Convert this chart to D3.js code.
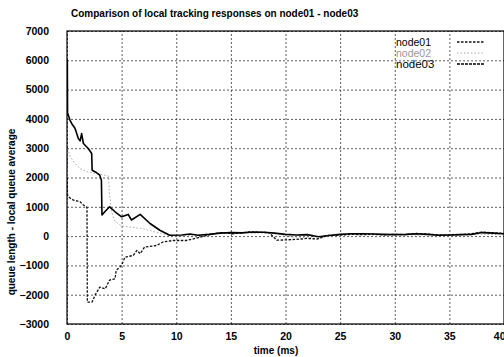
<!DOCTYPE html>
<html lang="en">
<head>
    <meta charset="UTF-8">
    <title>Comparison of local tracking responses on node01 - node03</title>
    <script src="https://cdnjs.cloudflare.com/ajax/libs/d3/7.8.5/d3.min.js"></script>
    <style>
        body {
            margin: 0;
            padding: 0;
            background-color: #fff;
        }
        svg {
            display: block;
            font-family: "Liberation Sans", Arial, sans-serif;
        }
        .grid line {
            stroke: #333;
            stroke-width: 0.8px;
            stroke-dasharray: 2,2;
        }
        .grid path {
            display: none;
        }
        .axis path {
            display: none;
        }
        .axis text {
            font-size: 10.5px;
            font-weight: bold;
            fill: #000;
        }
    </style>
</head>
<body>
    <div id="chart"></div>
    <script>
        // values
        const xTicks = [0, 5, 10, 15, 20, 25, 30, 35, 40];
        const yTicks = [-3000, -2000, -1000, 0, 1000, 2000, 3000, 4000, 5000, 6000, 7000];
        const seriesNames = ["node01", "node02", "node03"];

        const node01T = [0, 0.05, 0.3, 0.6, 1.2, 1.5, 1.83, 1.86, 2.3, 2.56, 3.0, 3.5, 3.9, 4.4, 4.5, 5.0, 5.3, 6.07, 6.4, 6.7, 7.1, 8.2, 8.8, 9.7, 10.9, 11.5, 12.2, 13.4, 14.3, 15.2, 16.7, 18.5, 19.2, 20, 21, 22, 22.9, 23.8, 25, 26, 27, 28, 29, 30, 31, 32, 33, 34, 35, 36, 37, 38, 39, 40];
        const node01V = [2000, 1400, 1290, 1230, 1170, 1060, 980, -2250, -2250, -2020, -1740, -1800, -1500, -1460, -1170, -1000, -720, -660, -490, -600, -375, -320, -200, -150, -150, -100, -35, 80, 120, 80, 140, 120, -140, -130, -110, -80, -100, 20, 40, 60, 50, 70, 40, 60, 50, 90, 70, 40, 30, 50, 80, 140, 110, 90];

        const node02T = [0, 0.05, 0.3, 0.7, 1.2, 1.8, 2.5, 3.2, 3.8, 3.9, 4.1, 4.4, 5.0, 6.0, 7.0, 8.0, 9.0, 10, 11, 12, 13, 14, 15, 16, 17, 18, 19, 20, 21, 22, 23, 24, 25, 26, 28, 30, 32, 34, 36, 38, 40];
        const node02V = [-2600, 3000, 2700, 2500, 2300, 2200, 2150, 2100, 2050, 1400, 800, 500, 350, 300, 250, 150, 60, 0, 20, 50, 80, 100, 130, 120, 100, 110, 90, 20, -60, -40, -90, 10, 30, 50, 40, 60, 30, 50, 70, 60, 50];

        const node03T = [0, 0.03, 0.05, 0.27, 0.5, 0.73, 1.04, 1.2, 1.34, 1.5, 1.95, 2.26, 2.3, 2.6, 3.0, 3.15, 3.2, 3.5, 3.9, 4.4, 5.0, 5.6, 5.9, 6.7, 7.6, 8.5, 9.4, 10.5, 11.25, 12, 13, 14, 15, 16, 17, 18, 19, 20, 21, 22, 23, 24, 25, 26, 27, 28, 29, 30, 31, 32, 33, 34, 35, 36, 37, 38, 39, 40];
        const node03V = [6000, 6000, 4200, 3960, 3800, 3680, 3330, 3250, 3500, 3160, 2990, 2820, 2250, 2190, 2080, 1910, 720, 850, 1000, 830, 660, 740, 550, 740, 430, 200, 30, 40, 70, 30, 60, 100, 120, 110, 140, 130, 100, 60, 40, 50, -20, 20, 60, 80, 80, 70, 60, 50, 60, 80, 60, 30, 40, 50, 60, 120, 100, 80];

        const styles = {
            node01: { color: "#111", width: 1.3, dash: "2.5,1.5", fontSize: 10.5 },
            node02: { color: "#aaa", width: 1, dash: "1.5,2", fontSize: 10.5 },
            node03: { color: "#000", width: 1.6, dash: null, fontSize: 11.5 }
        };

        const series = [
            { name: "node01", t: node01T, v: node01V },
            { name: "node02", t: node02T, v: node02V },
            { name: "node03", t: node03T, v: node03V }
        ];

        const W = 504, H = 357;
        const margin = { top: 31, right: 0, bottom: 33, left: 67 };
        const width = W - margin.left - margin.right;
        const height = H - margin.top - margin.bottom;

        const svg = d3.select("#chart").append("svg")
            .attr("width", W)
            .attr("height", H);

        const g = svg.append("g")
            .attr("transform", `translate(${margin.left},${margin.top})`);

        const x = d3.scaleLinear().domain([0, 40]).range([0, width]);
        const y = d3.scaleLinear().domain([-3000, 7000]).range([height, 0]);

        // grid
        g.append("g")
            .attr("class", "grid")
            .attr("transform", `translate(0,${height})`)
            .call(d3.axisBottom(x).tickValues(xTicks).tickSize(-height).tickFormat(""));
        g.append("g")
            .attr("class", "grid")
            .call(d3.axisLeft(y).tickValues(yTicks).tickSize(-width).tickFormat(""));

        // tick labels
        const xAxis = g.append("g")
            .attr("class", "axis")
            .attr("transform", `translate(0,${height})`)
            .call(d3.axisBottom(x).tickValues(xTicks).tickSize(0).tickPadding(9).tickFormat(d3.format("d")));
        // last label sits on the right edge, keep it inside the page
        xAxis.selectAll(".tick text")
            .filter(d => d === 40)
            .attr("text-anchor", "end")
            .attr("dx", "1");
        g.append("g")
            .attr("class", "axis")
            .call(d3.axisLeft(y).tickValues(yTicks).tickSize(0).tickPadding(18).tickFormat(d3.format("d")));

        g.append("clipPath").attr("id", "clip")
            .append("rect").attr("width", width).attr("height", height);

        const line = d3.line()
            .x(d => x(d[0]))
            .y(d => y(d[1]));

        const lines = g.append("g").attr("clip-path", "url(#clip)");
        // draw gray first so darker curves sit on top
        [series[1], series[0], series[2]].forEach(s => {
            const st = styles[s.name];
            lines.append("path")
                .datum(s.t.map((t, i) => [t, s.v[i]]))
                .attr("fill", "none")
                .attr("stroke", st.color)
                .attr("stroke-width", st.width)
                .attr("stroke-dasharray", st.dash)
                .attr("stroke-linejoin", "round")
                .attr("d", line);
        });

        // frame
        g.append("rect")
            .attr("width", width)
            .attr("height", height)
            .attr("fill", "none")
            .attr("stroke", "#000")
            .attr("stroke-width", 1.2);

        // legend
        const legend = g.append("g");
        seriesNames.forEach((name, i) => {
            const st = styles[name];
            const ly = 11 + i * 11;
            legend.append("text")
                .attr("x", 329)
                .attr("y", ly + 4)
                .attr("font-size", st.fontSize)
                .attr("fill", name === "node02" ? "#999" : "#000")
                .text(name);
            legend.append("line")
                .attr("x1", 390).attr("x2", 418)
                .attr("y1", ly).attr("y2", ly)
                .attr("stroke", st.color)
                .attr("stroke-width", st.width)
                .attr("stroke-dasharray", st.dash || "3,1");
        });

        // titles
        svg.append("text")
            .attr("x", 71)
            .attr("y", 17)
            .attr("font-size", 10)
            .attr("font-weight", "bold")
            .text("Comparison of local tracking responses on node01 - node03");

        svg.append("text")
            .attr("x", 276)
            .attr("y", 354)
            .attr("text-anchor", "middle")
            .attr("font-size", 10)
            .attr("font-weight", "bold")
            .text("time (ms)");

        svg.append("text")
            .attr("transform", "translate(15,212) rotate(-90)")
            .attr("text-anchor", "middle")
            .attr("font-size", 10)
            .attr("font-weight", "bold")
            .text("queue length - local queue average");
    </script>
</body>
</html>
